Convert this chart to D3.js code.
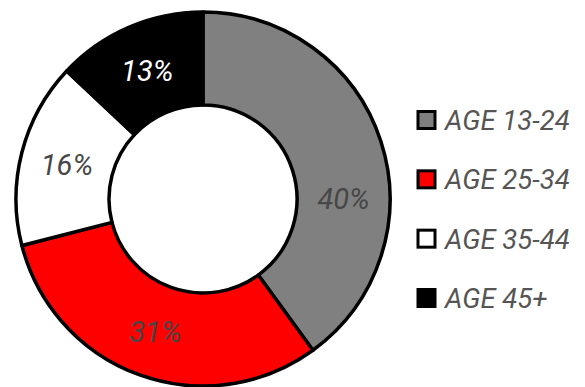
<!DOCTYPE html>
<html><head><meta charset="utf-8">
<script src="https://cdn.jsdelivr.net/npm/d3@7"></script>
<style>body{margin:0;background:#fff}svg{display:block}</style>
</head><body>
<svg id="c" width="585" height="387"></svg>
<script>
const categories = ["AGE 13-24", "AGE 25-34", "AGE 35-44", "AGE 45+"];
const values = [40, 31, 16, 13];
const colors = ["#808080", "#ff0000", "#ffffff", "#000000"];
const labelColors = ["#474747", "#474747", "#474747", "#ffffff"];

const svg = d3.select("#c");
const cx = 203, cy = 199, outerR = 187, innerR = 94;
const data = categories.map((c, i) => ({cat: c, value: values[i], i}));
const pie = d3.pie().value(d => d.value).sort(null);
const arc = d3.arc().innerRadius(innerR).outerRadius(outerR);
const g = svg.append("g").attr("transform", `translate(${cx},${cy})`);
const arcs = pie(data);
g.selectAll("path").data(arcs).join("path")
  .attr("d", arc).attr("fill", d => colors[d.data.i])
  .attr("stroke", "#000").attr("stroke-width", 3.5).attr("stroke-linejoin", "round");
function labelPos(d) {
  // first (largest) slice label sits at 3 o'clock in the reference
  if (d.index === 0) {
    const a = Math.PI / 2;
    return arc.centroid({startAngle: a, endAngle: a});
  }
  return arc.centroid(d);
}
g.selectAll("text").data(arcs).join("text")
  .attr("transform", d => `translate(${labelPos(d)})`)
  .attr("text-anchor", "middle").attr("dy", "0.36em")
  .attr("font-family", "Roboto, sans-serif").attr("font-style", "italic")
  .attr("font-size", 29).attr("fill", d => labelColors[d.data.i])
  .text(d => d.data.value + "%");

const leg = svg.append("g");
const ly = d3.scalePoint().domain(categories).range([120, 298]);
const row = leg.selectAll("g").data(data).join("g")
  .attr("transform", d => `translate(0,${ly(d.cat)})`);
row.append("rect").attr("x", 418).attr("y", -8.5).attr("width", 17).attr("height", 17)
  .attr("fill", d => colors[d.i]).attr("stroke", "#000").attr("stroke-width", 3);
row.append("text").attr("x", 445).attr("dy", "0.36em")
  .attr("font-family", "Roboto, sans-serif").attr("font-style", "italic")
  .attr("font-size", 27.5).attr("fill", "#555").text(d => d.cat);
</script>
</body></html>
